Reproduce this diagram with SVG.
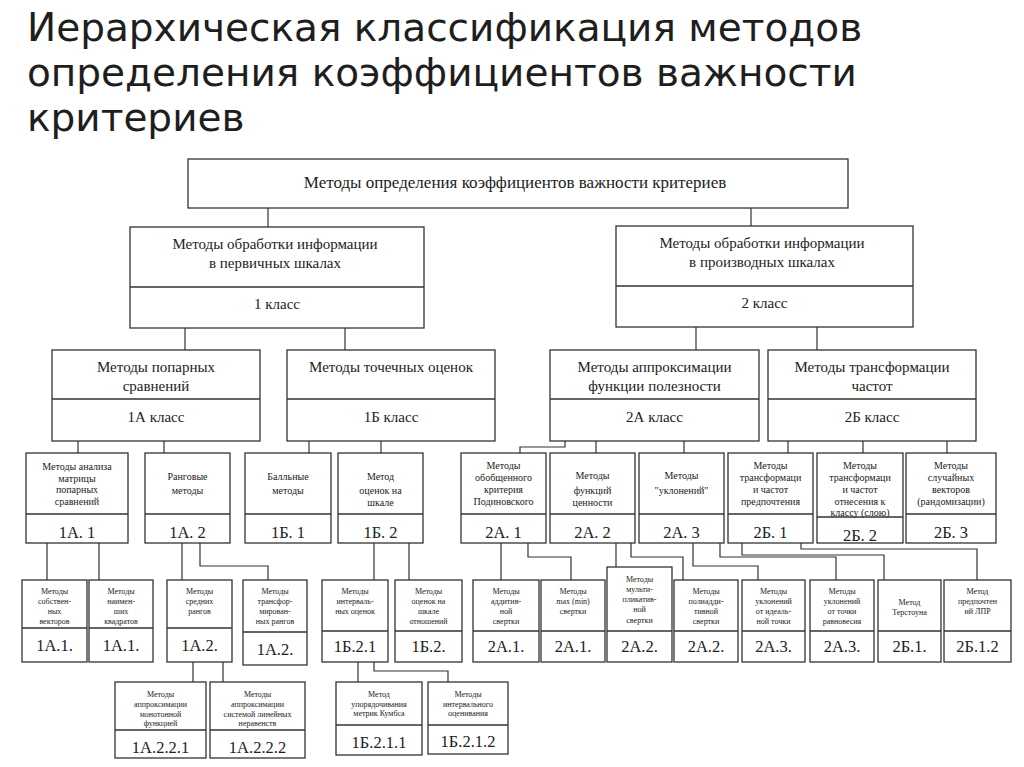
<svg xmlns="http://www.w3.org/2000/svg" width="1024" height="767" viewBox="0 0 1024 767">
<style>
.b{fill:#fff;stroke:#333;stroke-width:1.3}
.d{stroke:#333;stroke-width:1.3}
.c{fill:none;stroke:#333;stroke-width:1.2}
text{font-family:"Liberation Serif","Times New Roman",serif;fill:#222;text-anchor:middle}
.ti{font-family:"DejaVu Sans","Open Sans",sans-serif;font-size:39px;text-anchor:start;fill:#1e1e1e}
.t1{font-size:17px}
.t2{font-size:15px}
.t4{font-size:10px}
.t5{font-size:8px}
.l4{font-size:16.5px}
.l5{font-size:16.5px}
</style>
<rect width="1024" height="767" fill="#fff"/>
<g id="title">
<text class="ti" x="27" y="41">Иерархическая классификация методов</text>
<text class="ti" x="27" y="86">определения коэффициентов важности</text>
<text class="ti" x="27" y="131">критериев</text>
</g>
<g id="connectors">
<path class="c" d="M268,208V227M751,208V226M185,328V350M345,328V350M696,327V350M817,327V350"/>
<path class="c" d="M78,441V453M164,441V453M309,441V453M381,441V453M565,441V447H520V453M596,441V453M684,441V453M788,441V453M863,441V453M947,441V453"/>
<path class="c" d="M47,543V580M99,543V580M182,543V580M200,543V566H268V580M374,543V580M409,543V580"/>
<path class="c" d="M501,543V580M528,543V557H571V580M616,543V567M631,543V557H683V580M693,543V566H758V580M720,543V557H836V580M742,543V555H884V580M801,543V549H977V580"/>
<path class="c" d="M193,662V682M223,662V682M358,662V682M374,662V671H448V682"/>
</g>
<g id="root">
<rect class="b" x="188" y="159" width="660" height="49"/>
<text class="t1" x="515" y="188">Методы определения коэффициентов важности критериев</text>
</g>
<g id="c1">
<rect class="b" x="130" y="227" width="294" height="101"/>
<line class="d" x1="130" y1="287" x2="424" y2="287"/>
<text class="t2" x="275" y="249">Методы обработки информации</text>
<text class="t2" x="275" y="268">в первичных шкалах</text>
<text class="t2" x="277" y="309">1 класс</text>
</g>
<g id="c2">
<rect class="b" x="616" y="226" width="297" height="101"/>
<line class="d" x1="616" y1="286" x2="913" y2="286"/>
<text class="t2" x="762" y="248">Методы обработки информации</text>
<text class="t2" x="762" y="267">в производных шкалах</text>
<text class="t2" x="764.5" y="308">2 класс</text>
</g>
<g id="c1A">
<rect class="b" x="52" y="350" width="208" height="91"/>
<line class="d" x1="52" y1="399" x2="260" y2="399"/>
<text class="t2" x="156" y="372">Методы попарных</text>
<text class="t2" x="156" y="391">сравнений</text>
<text class="t2" x="156" y="422">1А класс</text>
</g>
<g id="c1B">
<rect class="b" x="287" y="350" width="208" height="91"/>
<line class="d" x1="287" y1="399" x2="495" y2="399"/>
<text class="t2" x="391" y="372">Методы точечных оценок</text>
<text class="t2" x="391" y="422">1Б класс</text>
</g>
<g id="c2A">
<rect class="b" x="550" y="350" width="209" height="91"/>
<line class="d" x1="550" y1="399" x2="759" y2="399"/>
<text class="t2" x="654.5" y="372">Методы аппроксимации</text>
<text class="t2" x="654.5" y="391">функции полезности</text>
<text class="t2" x="654.5" y="422">2А класс</text>
</g>
<g id="c2B">
<rect class="b" x="768" y="350" width="208" height="91"/>
<line class="d" x1="768" y1="399" x2="976" y2="399"/>
<text class="t2" x="872" y="372">Методы трансформации</text>
<text class="t2" x="872" y="391">частот</text>
<text class="t2" x="872" y="422">2Б класс</text>
</g>
<g id="n1A1">
<rect class="b" x="26" y="453" width="102" height="90"/>
<line class="d" x1="26" y1="514" x2="128" y2="514"/>
<text class="t4" x="77" y="469.5">Методы анализа</text>
<text class="t4" x="77" y="481.5">матрицы</text>
<text class="t4" x="77" y="493">попарных</text>
<text class="t4" x="77" y="504.5">сравнений</text>
<text class="l4" x="77" y="538">1А. 1</text>
</g>
<g id="n1A2">
<rect class="b" x="145" y="453" width="85" height="90"/>
<line class="d" x1="145" y1="514" x2="230" y2="514"/>
<text class="t4" x="187.5" y="479.5">Ранговые</text>
<text class="t4" x="187.5" y="494">методы</text>
<text class="l4" x="187.5" y="538">1А. 2</text>
</g>
<g id="n1B1">
<rect class="b" x="245" y="453" width="86" height="90"/>
<line class="d" x1="245" y1="514" x2="331" y2="514"/>
<text class="t4" x="288" y="479.5">Балльные</text>
<text class="t4" x="288" y="494">методы</text>
<text class="l4" x="288" y="538">1Б. 1</text>
</g>
<g id="n1B2">
<rect class="b" x="338" y="453" width="85" height="90"/>
<line class="d" x1="338" y1="514" x2="423" y2="514"/>
<text class="t4" x="380.5" y="479.5">Метод</text>
<text class="t4" x="380.5" y="493.5">оценок на</text>
<text class="t4" x="380.5" y="505.5">шкале</text>
<text class="l4" x="380.5" y="538">1Б. 2</text>
</g>
<g id="n2A1">
<rect class="b" x="461" y="453" width="85" height="90"/>
<line class="d" x1="461" y1="514" x2="546" y2="514"/>
<text class="t4" x="503.5" y="468.5">Методы</text>
<text class="t4" x="503.5" y="480.5">обобщенного</text>
<text class="t4" x="503.5" y="492.5">критерия</text>
<text class="t4" x="503.5" y="504.5">Подиновского</text>
<text class="l4" x="503.5" y="538">2А. 1</text>
</g>
<g id="n2A2">
<rect class="b" x="550" y="453" width="85" height="90"/>
<line class="d" x1="550" y1="514" x2="635" y2="514"/>
<text class="t4" x="592.5" y="478.5">Методы</text>
<text class="t4" x="592.5" y="493.5">функций</text>
<text class="t4" x="592.5" y="506">ценности</text>
<text class="l4" x="592.5" y="538">2А. 2</text>
</g>
<g id="n2A3">
<rect class="b" x="639" y="453" width="85" height="90"/>
<line class="d" x1="639" y1="514" x2="724" y2="514"/>
<text class="t4" x="681.5" y="478.5">Методы</text>
<text class="t4" x="681.5" y="493.5">"уклонений"</text>
<text class="l4" x="681.5" y="538">2А. 3</text>
</g>
<g id="n2B1">
<rect class="b" x="728" y="453" width="85" height="90"/>
<line class="d" x1="728" y1="514" x2="813" y2="514"/>
<text class="t4" x="770.5" y="468.5">Методы</text>
<text class="t4" x="770.5" y="480.5">трансформаци</text>
<text class="t4" x="770.5" y="492.5">и частот</text>
<text class="t4" x="770.5" y="504.5">предпочтения</text>
<text class="l4" x="770.5" y="538">2Б. 1</text>
</g>
<g id="n2B2">
<rect class="b" x="817" y="453" width="86" height="90"/>
<line class="d" x1="817" y1="517" x2="903" y2="517"/>
<text class="t4" x="860" y="468.5">Методы</text>
<text class="t4" x="860" y="480.5">трансформаци</text>
<text class="t4" x="860" y="492.5">и частот</text>
<text class="t4" x="860" y="504.5">отнесения к</text>
<text class="t4" x="860" y="515.5">классу (слою)</text>
<text class="l4" x="860" y="541">2Б. 2</text>
</g>
<g id="n2B3">
<rect class="b" x="906" y="453" width="90" height="90"/>
<line class="d" x1="906" y1="514" x2="996" y2="514"/>
<text class="t4" x="951" y="468.5">Методы</text>
<text class="t4" x="951" y="480.5">случайных</text>
<text class="t4" x="951" y="492.5">векторов</text>
<text class="t4" x="951" y="504.5">(рандомизации)</text>
<text class="l4" x="951" y="538">2Б. 3</text>
</g>
<g id="m1">
<rect class="b" x="22" y="580" width="65" height="82"/>
<line class="d" x1="22" y1="628" x2="87" y2="628"/>
<text class="t5" x="54.5" y="594">Методы</text>
<text class="t5" x="54.5" y="604">собствен-</text>
<text class="t5" x="54.5" y="614">ных</text>
<text class="t5" x="54.5" y="624">векторов</text>
<text class="l5" x="54.5" y="651">1А.1.</text>
</g>
<g id="m2">
<rect class="b" x="89" y="580" width="64" height="82"/>
<line class="d" x1="89" y1="628" x2="153" y2="628"/>
<text class="t5" x="121" y="594">Методы</text>
<text class="t5" x="121" y="604">наимен-</text>
<text class="t5" x="121" y="614">ших</text>
<text class="t5" x="121" y="624">квадратов</text>
<text class="l5" x="121" y="651">1А.1.</text>
</g>
<g id="m3">
<rect class="b" x="167" y="580" width="65" height="82"/>
<line class="d" x1="167" y1="628" x2="232" y2="628"/>
<text class="t5" x="199.5" y="594">Методы</text>
<text class="t5" x="199.5" y="604">средних</text>
<text class="t5" x="199.5" y="614">рангов</text>
<text class="l5" x="199.5" y="651">1А.2.</text>
</g>
<g id="m4">
<rect class="b" x="243" y="580" width="64" height="85"/>
<line class="d" x1="243" y1="632" x2="307" y2="632"/>
<text class="t5" x="275" y="594">Методы</text>
<text class="t5" x="275" y="604">трансфор-</text>
<text class="t5" x="275" y="614">мирован-</text>
<text class="t5" x="275" y="624">ных рангов</text>
<text class="l5" x="275" y="655">1А.2.</text>
</g>
<g id="m5">
<rect class="b" x="322" y="580" width="66" height="82"/>
<line class="d" x1="322" y1="631" x2="388" y2="631"/>
<text class="t5" x="355" y="594">Методы</text>
<text class="t5" x="355" y="604">интерваль-</text>
<text class="t5" x="355" y="614">ных оценок</text>
<text class="l5" x="355" y="652">1Б.2.1</text>
</g>
<g id="m6">
<rect class="b" x="395" y="580" width="67" height="82"/>
<line class="d" x1="395" y1="631" x2="462" y2="631"/>
<text class="t5" x="428.5" y="594">Методы</text>
<text class="t5" x="428.5" y="604">оценок на</text>
<text class="t5" x="428.5" y="614">шкале</text>
<text class="t5" x="428.5" y="624">отношений</text>
<text class="l5" x="428.5" y="652">1Б.2.</text>
</g>
<g id="m7">
<rect class="b" x="473" y="580" width="66" height="82"/>
<line class="d" x1="473" y1="631" x2="539" y2="631"/>
<text class="t5" x="506" y="594">Методы</text>
<text class="t5" x="506" y="604">аддитив-</text>
<text class="t5" x="506" y="614">ной</text>
<text class="t5" x="506" y="624">свертки</text>
<text class="l5" x="506" y="652">2А.1.</text>
</g>
<g id="m8">
<rect class="b" x="541" y="580" width="64" height="82"/>
<line class="d" x1="541" y1="631" x2="605" y2="631"/>
<text class="t5" x="573" y="594">Методы</text>
<text class="t5" x="573" y="604">max (min)</text>
<text class="t5" x="573" y="614">свертки</text>
<text class="l5" x="573" y="652">2А.1.</text>
</g>
<g id="m9">
<rect class="b" x="607" y="567" width="65" height="95"/>
<line class="d" x1="607" y1="631" x2="672" y2="631"/>
<text class="t5" x="639.5" y="582">Методы</text>
<text class="t5" x="639.5" y="592">мульти-</text>
<text class="t5" x="639.5" y="602">пликатив-</text>
<text class="t5" x="639.5" y="612">ной</text>
<text class="t5" x="639.5" y="623">свертки</text>
<text class="l5" x="639.5" y="652">2А.2.</text>
</g>
<g id="m10">
<rect class="b" x="674" y="580" width="64" height="82"/>
<line class="d" x1="674" y1="631" x2="738" y2="631"/>
<text class="t5" x="706" y="594">Методы</text>
<text class="t5" x="706" y="604">полиадди-</text>
<text class="t5" x="706" y="614">тивной</text>
<text class="t5" x="706" y="624">свертки</text>
<text class="l5" x="706" y="652">2А.2.</text>
</g>
<g id="m11">
<rect class="b" x="742" y="580" width="63" height="82"/>
<line class="d" x1="742" y1="631" x2="805" y2="631"/>
<text class="t5" x="773.5" y="594">Методы</text>
<text class="t5" x="773.5" y="604">уклонений</text>
<text class="t5" x="773.5" y="614">от идеаль-</text>
<text class="t5" x="773.5" y="624">ной точки</text>
<text class="l5" x="773.5" y="652">2А.3.</text>
</g>
<g id="m12">
<rect class="b" x="810" y="580" width="64" height="82"/>
<line class="d" x1="810" y1="631" x2="874" y2="631"/>
<text class="t5" x="842" y="594">Методы</text>
<text class="t5" x="842" y="604">уклонений</text>
<text class="t5" x="842" y="614">от точки</text>
<text class="t5" x="842" y="624">равновесия</text>
<text class="l5" x="842" y="652">2А.3.</text>
</g>
<g id="m13">
<rect class="b" x="878" y="580" width="63" height="82"/>
<line class="d" x1="878" y1="631" x2="941" y2="631"/>
<text class="t5" x="909.5" y="605">Метод</text>
<text class="t5" x="909.5" y="615">Терстоуна</text>
<text class="l5" x="909.5" y="652">2Б.1.</text>
</g>
<g id="m14">
<rect class="b" x="944" y="580" width="67" height="82"/>
<line class="d" x1="944" y1="631" x2="1011" y2="631"/>
<text class="t5" x="977.5" y="594">Метод</text>
<text class="t5" x="977.5" y="604">предпочтен</text>
<text class="t5" x="977.5" y="614">ий ЛПР</text>
<text class="l5" x="977.5" y="652">2Б.1.2</text>
</g>
<g id="k1">
<rect class="b" x="115" y="682" width="91" height="76"/>
<line class="d" x1="115" y1="730" x2="206" y2="730"/>
<text class="t5" x="160.5" y="697">Методы</text>
<text class="t5" x="160.5" y="707">аппроксимации</text>
<text class="t5" x="160.5" y="717">монотонной</text>
<text class="t5" x="160.5" y="726">функцией</text>
<text class="l5" x="160.5" y="753">1А.2.2.1</text>
</g>
<g id="k2">
<rect class="b" x="210" y="682" width="95" height="76"/>
<line class="d" x1="210" y1="730" x2="305" y2="730"/>
<text class="t5" x="257.5" y="697">Методы</text>
<text class="t5" x="257.5" y="707">аппроксимации</text>
<text class="t5" x="257.5" y="717">системой линейных</text>
<text class="t5" x="257.5" y="726">неравенств</text>
<text class="l5" x="257.5" y="753">1А.2.2.2</text>
</g>
<g id="k3">
<rect class="b" x="336" y="682" width="86" height="73"/>
<line class="d" x1="336" y1="725" x2="422" y2="725"/>
<text class="t5" x="379" y="697">Метод</text>
<text class="t5" x="379" y="707">упорядочивания</text>
<text class="t5" x="379" y="716">метрик Кумбса</text>
<text class="l5" x="379" y="748">1Б.2.1.1</text>
</g>
<g id="k4">
<rect class="b" x="428" y="682" width="80" height="72"/>
<line class="d" x1="428" y1="725" x2="508" y2="725"/>
<text class="t5" x="468" y="697">Методы</text>
<text class="t5" x="468" y="707">интервального</text>
<text class="t5" x="468" y="716">оценивания</text>
<text class="l5" x="468" y="747">1Б.2.1.2</text>
</g>
</svg>
